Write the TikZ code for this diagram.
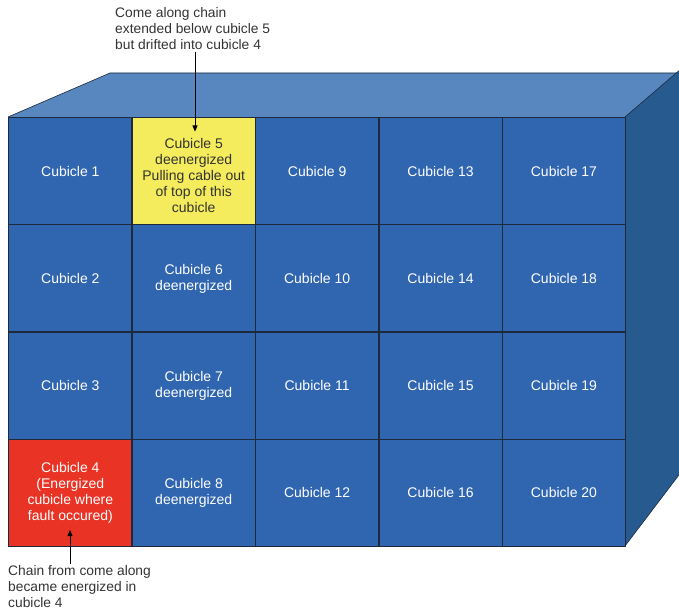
\documentclass[tikz,border=0pt]{standalone}
\usepackage{fontspec}
\setmainfont{Liberation Sans}
\usetikzlibrary{arrows.meta}
\definecolor{cellblue}{HTML}{3065B0}
\definecolor{topblue}{HTML}{5787BE}
\definecolor{sideblue}{HTML}{275A8E}
\definecolor{cellyellow}{HTML}{F4EC5C}
\definecolor{cellred}{HTML}{E93325}
\definecolor{gridline}{HTML}{1E2A3C}
\definecolor{captext}{HTML}{333333}
\begin{document}
\begin{tikzpicture}[x=1pt,y=-1pt,
  celltext/.style={align=center, font=\fontsize{14}{16}\selectfont},
  cell/.style={draw=gridline, line width=1.3pt, fill=cellblue,
    minimum width=123.4pt, minimum height=107.2pt, inner sep=0pt,
    anchor=north west, text=white, celltext},
  hotcell/.style={cell, fill=cellred},
  warncell/.style={cell, fill=cellyellow, text=captext},
  caption/.style={anchor=north west, inner sep=0pt, align=left,
    text=captext, font=\fontsize{13.8}{16}\selectfont},
  pointer/.style={draw=black, line width=0.7pt,
    -{Triangle[length=6pt,width=5pt]}},
  face/.style={draw=gridline, line width=0.6pt}
]
\useasboundingbox (0,0) rectangle (679,612);
\begin{scope}
\clip (0,0) rectangle (679,612);
% top face
\fill[topblue] (8,117) -- (110,73) -- (685,73) -- (685,117) -- cycle;
\draw[face] (8,117) -- (110,73) -- (685,73);
% side face
\fill[sideblue] (625,117) -- (685,65.5) -- (685,467) -- (625,546) -- cycle;
\draw[face] (625,117) -- (685,65.5);
\draw[face] (625,546) -- (685,467);
\end{scope}
% cells, column 1
\node[cell] (c1) at (8,117) {Cubicle 1};
\node[cell] (c2) at (8,224.2) {Cubicle 2};
\node[cell] (c3) at (8,331.4) {Cubicle 3};
\node[hotcell] (c4) at (8,438.6) {Cubicle 4\\(Energized\\cubicle where\\fault occured)};
% column 2
\node[warncell, label={[celltext, text=captext, inner sep=0pt, yshift=-4.5pt]center:Cubicle 5\\deenergized\\Pulling cable out\\of top of this\\cubicle}] (c5) at (131.4,117) {};
\node[cell] (c6) at (131.4,224.2) {Cubicle 6\\deenergized};
\node[cell] (c7) at (131.4,331.4) {Cubicle 7\\deenergized};
\node[cell] (c8) at (131.4,438.6) {Cubicle 8\\deenergized};
% column 3
\node[cell] (c9) at (254.8,117) {Cubicle 9};
\node[cell] (c10) at (254.8,224.2) {Cubicle 10};
\node[cell] (c11) at (254.8,331.4) {Cubicle 11};
\node[cell] (c12) at (254.8,438.6) {Cubicle 12};
% column 4
\node[cell] (c13) at (378.2,117) {Cubicle 13};
\node[cell] (c14) at (378.2,224.2) {Cubicle 14};
\node[cell] (c15) at (378.2,331.4) {Cubicle 15};
\node[cell] (c16) at (378.2,438.6) {Cubicle 16};
% column 5
\node[cell] (c17) at (501.6,117) {Cubicle 17};
\node[cell] (c18) at (501.6,224.2) {Cubicle 18};
\node[cell] (c19) at (501.6,331.4) {Cubicle 19};
\node[cell] (c20) at (501.6,438.6) {Cubicle 20};
% captions
\node[caption] (cap1) at (115,7) {Come along chain\\extended below cubicle 5\\but drifted into cubicle 4};
\node[caption] (cap2) at (8,565) {Chain from come along\\became energized in\\cubicle 4};
% pointers
\coordinate (t5) at (195,131.5);
\coordinate (b4) at (70,530);
\draw[pointer, shorten <=2pt] (cap1.south -| t5) -- (t5);
\draw[pointer, shorten <=1pt] (cap2.north -| b4) -- (b4);
\end{tikzpicture}
\end{document}
